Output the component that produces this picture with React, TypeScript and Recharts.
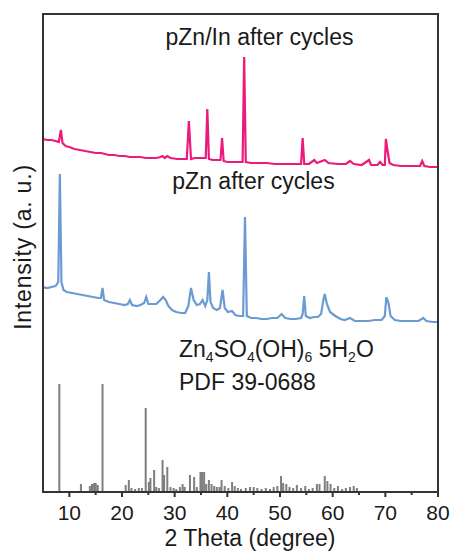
import React from 'react';
import { ComposedChart, Line, XAxis, YAxis } from 'recharts';

// 2θ values and intensities (a.u., already offset for stacking)
const pznInTheta = [
  5, 5.8, 6.6, 7.4, 8.0, 8.4, 8.7, 9.3, 10, 11, 12, 13, 14, 15, 16, 16.8, 17.5, 18.5, 19.5, 20.5,
  21.5, 22.5, 23.5, 24.5, 25.5, 26.5, 27.3, 27.7, 28.1, 28.6, 29.2, 30.5, 31.5, 32.3, 32.7, 33.1,
  33.8, 35.4, 35.9, 36.2, 36.5, 37.2, 38.0, 38.7, 39.0, 39.3, 40, 41, 42, 42.9, 43.2, 43.5, 44.5,
  46, 47.5, 49, 50.5, 52, 53.5, 54.0, 54.3, 54.6, 55.5, 56.5, 57, 58.5, 59.2, 61, 62.5, 63.3, 64,
  65.5, 66.9, 67.3, 68.5, 69.0, 69.5, 69.9, 70.1, 70.4, 70.8, 71.5, 73, 75, 76.6, 77.0, 77.4, 78.5, 80,
];
const pznInIntensity = [
  353, 352, 352, 351, 350, 362, 349, 346, 345, 343, 342, 341, 340, 339, 339, 338, 337, 337, 336, 336,
  335, 335, 335, 334, 334, 334, 335, 336, 334, 336, 334, 333, 333, 333, 371, 333,
  334, 334, 334, 383, 333, 332, 332, 332, 354, 331, 330, 330, 330, 330, 435, 330, 329,
  329, 329, 328, 328, 328, 328, 328, 354, 328, 328, 332, 329, 332, 329, 328, 328, 331, 328,
  327, 332, 327, 327, 330, 327, 327, 353, 342, 329, 327, 326, 326, 326, 331, 326, 325, 325,
];

const pznTheta = [
  5, 5.8, 6.6, 7.4, 7.9, 8.2, 8.5, 8.9, 9.5, 10.5, 11.5, 12.5, 13.5, 14.5, 15.5, 16.0, 16.3, 16.6,
  17.5, 18.5, 19.5, 20.5, 21.1, 21.5, 21.9, 22.8, 23.5, 24.2, 24.6, 25.0, 25.8, 26.5, 27.3, 27.8,
  28.3, 28.8, 29.5, 30.3, 31.2, 32.0, 32.6, 33.1, 33.6, 34.2, 34.8, 35.3, 35.8, 36.2, 36.5, 36.8,
  37.3, 38.0, 38.6, 39.1, 39.5, 40.1, 40.9, 41.5, 42.3, 43.0, 43.35, 43.7, 44.5, 45.5, 46.5, 47.5,
  48.5, 49.5, 50.3, 51, 52, 53, 54.0, 54.3, 54.6, 54.9, 55.7, 56.5, 57.2, 57.8, 58.3, 58.5, 58.9,
  59.5, 60.5, 61.5, 62.3, 63.3, 64.2, 65.5, 66.8, 68, 69.3, 69.9, 70.2, 70.6, 71.0, 71.8, 73, 74.5,
  76.3, 77.2, 77.8, 79, 80,
];
const pznIntensity = [
  205, 204, 205, 206, 210, 318, 210, 202, 200, 199, 198, 197, 196, 195, 194, 194, 204, 192,
  190, 189, 188, 187, 188, 192, 187, 186, 187, 189, 195, 188, 188, 188, 192, 195,
  192, 186, 182, 180, 179, 179, 186, 204, 192, 187, 188, 192, 186, 192, 220, 190,
  184, 182, 184, 202, 184, 180, 181, 177, 176, 176, 275, 176, 174, 174, 173, 173,
  174, 174, 178, 174, 173, 173, 174, 178, 196, 176, 174, 175, 175, 178, 194, 198, 188,
  180, 176, 173, 172, 174, 171, 171, 171, 172, 172, 176, 195, 189, 176, 172, 171, 171,
  171, 174, 171, 170, 170,
];

// PDF 39-0688 reference lines
const pdfTheta = [
  8.1, 12.2, 13.9, 14.3, 14.7, 15.0, 15.4, 16.3, 20.7, 21.3, 21.8, 22.5, 23.2, 23.8, 24.5, 25.1,
  25.4, 26.1, 26.5, 27.0, 27.7, 28.0, 28.6, 29.2, 29.8, 30.3, 31.0, 31.5, 31.9, 32.9, 33.7, 34.2,
  34.9, 35.2, 35.6, 36.0, 36.5, 37.0, 37.5, 38.0, 38.5, 38.9, 39.5, 40.2, 40.9, 41.4, 42.0, 42.6,
  43.5, 44.3, 45.0, 45.7, 46.5, 47.3, 48.1, 48.8, 49.5, 50.2, 50.6, 51.2, 51.8, 52.5, 53.2, 54.0,
  54.8, 55.5, 56.2, 57.0, 57.5, 58.5, 59.0, 59.6, 60.3, 61.0, 61.8, 62.5, 63.3, 64.0, 64.6,
];
const pdfIntensity = [
  108, 8, 6, 8, 9, 9, 7, 108, 7, 12, 4, 3, 4, 4, 84, 10,
  14, 22, 5, 4, 32, 17, 25, 5, 4, 3, 5, 8, 5, 17, 15, 5,
  20, 20, 20, 8, 12, 8, 6, 5, 5, 12, 6, 4, 10, 6, 4, 3,
  4, 5, 5, 4, 3, 4, 3, 5, 6, 16, 9, 8, 5, 4, 7, 4,
  6, 3, 4, 8, 8, 16, 11, 8, 4, 6, 3, 4, 5, 6, 4,
];

const xTicks = [10, 15, 20, 25, 30, 35, 40, 45, 50, 55, 60, 65, 70, 75, 80];
const xLabels = [10, 20, 30, 40, 50, 60, 70, 80];

const pznInData = pznInTheta.map((x, i) => ({ x, y: pznInIntensity[i] }));
const pznData = pznTheta.map((x, i) => ({ x, y: pznIntensity[i] }));
const pdfData = pdfTheta.flatMap((x, i) => [
  { x, y: 0 },
  { x, y: pdfIntensity[i] },
  { x, y: 0 },
]);

const FONT = '"Liberation Sans", Arial, sans-serif';
const FRAME = '#333';

const XTick = ({ x, y, payload }: any) => {
  const major = xLabels.includes(payload.value);
  return (
    <g>
      <line x1={x} x2={x} y1={y} y2={y + (major ? 5 : 3)} stroke={FRAME} strokeWidth={2} />
      {major && (
        <text x={x} y={y + 13} dy="0.71em" textAnchor="middle" fontSize={21} fontFamily={FONT} fill="#1a1a1a">
          {payload.value}
        </text>
      )}
    </g>
  );
};

const App: React.FC = () => {
  return (
    <div style={{ position: 'absolute', left: 0, top: 0, width: 455, height: 559, background: '#fff' }}>
      <ComposedChart width={455} height={559} margin={{ top: 14, right: 17, left: 43, bottom: 0 }}>
        <XAxis
          dataKey="x"
          type="number"
          domain={[5, 80]}
          ticks={xTicks}
          interval={0}
          height={67}
          tickSize={0}
          tickMargin={0}
          tickLine={false}
          tick={<XTick />}
          axisLine={{ stroke: FRAME, strokeWidth: 2 }}
          allowDataOverflow
        />
        <YAxis type="number" domain={[0, 478]} hide allowDataOverflow />
        <Line data={pdfData} dataKey="y" stroke="#7f7f7f" strokeWidth={2} dot={false} isAnimationActive={false} type="linear" />
        <Line data={pznData} dataKey="y" stroke="#6b9bd2" strokeWidth={2.2} dot={false} isAnimationActive={false} type="linear" />
        <Line data={pznInData} dataKey="y" stroke="#ec1a7b" strokeWidth={2.2} dot={false} isAnimationActive={false} type="linear" />
      </ComposedChart>
      <svg width={455} height={559} style={{ position: 'absolute', left: 0, top: 0, pointerEvents: 'none' }}>
        <rect x={43} y={14} width={395} height={478} fill="none" stroke={FRAME} strokeWidth={2} />
        <g fontFamily={FONT} fontSize={23} fill="#1a1a1a">
          <text x={259.5} y={45} textAnchor="middle">pZn/In after cycles</text>
          <text x={253.5} y={189} textAnchor="middle">pZn after cycles</text>
          <text x={179} y={357}>
            Zn<tspan fontSize={14} dy={5}>4</tspan>
            <tspan dy={-5}>SO</tspan><tspan fontSize={14} dy={5}>4</tspan>
            <tspan dy={-5}>(OH)</tspan><tspan fontSize={14} dy={5}>6</tspan>
            <tspan dy={-5}> 5H</tspan><tspan fontSize={14} dy={5}>2</tspan>
            <tspan dy={-5}>O</tspan>
          </text>
          <text x={179} y={390}>PDF 39-0688</text>
          <text x={250} y={546} textAnchor="middle">2 Theta (degree)</text>
          <text x={31} y={247} textAnchor="middle" letterSpacing={0.8} transform="rotate(-90 31 247)">Intensity (a. u.)</text>
        </g>
      </svg>
    </div>
  );
};

export default App;
